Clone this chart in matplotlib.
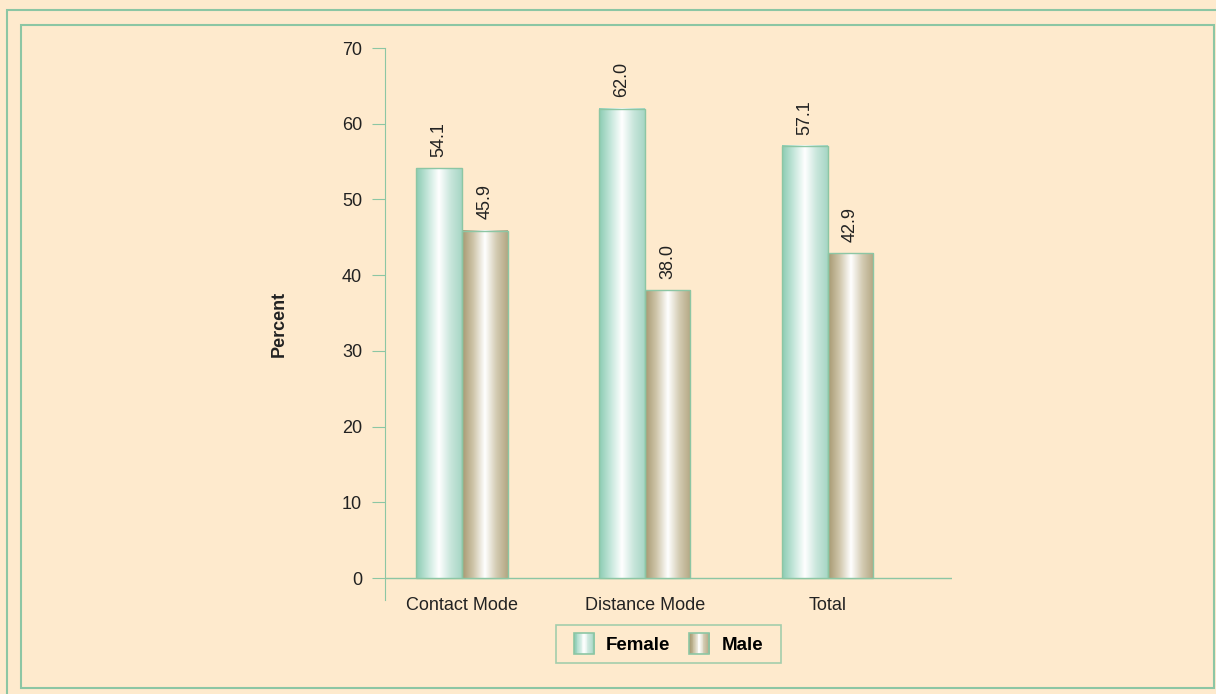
import numpy as np
import matplotlib
matplotlib.use("Agg")
import matplotlib.pyplot as plt
from matplotlib.patches import Rectangle
from matplotlib.legend_handler import HandlerBase
from matplotlib.colors import LinearSegmentedColormap

# data
categories = ["Contact Mode", "Distance Mode", "Total"]
female = [54.1, 62.0, 57.1]
male = [45.9, 38.0, 42.9]
series_names = ["Female", "Male"]

bg = "#FEEACD"
edge = "#8CC6A4"
female_cmap = LinearSegmentedColormap.from_list(
    "fem", ["#8ACBB2", "#C4E6DA", "#FFFFFF", "#C9E6DC", "#A6D6C4"])
male_cmap = LinearSegmentedColormap.from_list(
    "mal", ["#A69870", "#CFC6AA", "#FFFFFF", "#D3CBB2", "#B3A682"])

plt.rcParams['font.family'] = ['Liberation Sans', 'DejaVu Sans']

fig = plt.figure(figsize=(12.16, 6.94), dpi=100, facecolor=bg)
ax = fig.add_axes([0.3166, 0.1354, 0.4663, 0.7954])
ax.set_facecolor(bg)

# frames around the figure
fig.add_artist(Rectangle((7 / 1216, -0.1), 1.2, 1.1 - 10 / 694, transform=fig.transFigure,
                         fill=False, edgecolor=edge, lw=1.5))
fig.add_artist(Rectangle((21 / 1216, 1 - 688 / 694), (1214 - 21) / 1216, (688 - 25) / 694,
                         transform=fig.transFigure, fill=False, edgecolor=edge, lw=1.5))

x = np.arange(len(categories))
w = 0.25
grad = np.linspace(0, 1, 256).reshape(1, -1)


def gradient_bars(xs, vals, cmap):
    for xi, v in zip(xs, vals):
        ax.imshow(grad, cmap=cmap, extent=(xi, xi + w, 0, v), aspect="auto",
                  interpolation="bilinear", zorder=2)
    ax.bar(xs, vals, width=w, align="edge", facecolor="none", edgecolor=edge,
           linewidth=1.0, zorder=3)
    for xi, v in zip(xs, vals):
        ax.annotate(f"{v:.1f}", (xi + w / 2, v), xytext=(0, 8), textcoords="offset points",
                    rotation=90, ha="center", va="bottom", fontsize=13, color="#222222")


gradient_bars(x - w, female, female_cmap)
gradient_bars(x, male, male_cmap)

ax.set_xlim(-0.42, 2.68)
ax.set_ylim(-2.9, 70)
ax.set_yticks(range(0, 71, 10))
ax.set_xticks(x)
ax.set_xticklabels(categories)
ax.axhline(0, color=edge, lw=1.0, zorder=1)

for s in ["top", "right", "bottom"]:
    ax.spines[s].set_visible(False)
ax.spines["left"].set_color(edge)
ax.tick_params(axis="y", length=9.5, color=edge, labelsize=13, pad=7, labelcolor="#222222")
ax.tick_params(axis="x", length=0, labelsize=13, pad=-2, labelcolor="#222222")
ax.set_ylabel("Percent", fontsize=13, fontweight="bold", labelpad=39, color="#222222")


class GradientHandler(HandlerBase):
    def __init__(self, cmap):
        super().__init__()
        self.cmap = cmap

    def create_artists(self, legend, orig_handle, xdescent, ydescent, width, height,
                       fontsize, trans):
        n = 24
        arts = []
        for i in range(n):
            r = Rectangle((-xdescent + width * i / n, -ydescent), width / n + 0.3, height,
                          facecolor=self.cmap(i / (n - 1)), edgecolor="none", transform=trans)
            arts.append(r)
        arts.append(Rectangle((-xdescent, -ydescent), width, height, facecolor="none",
                              edgecolor=edge, lw=1.2, transform=trans))
        return arts


h1 = Rectangle((0, 0), 1, 1)
h2 = Rectangle((0, 0), 1, 1)
leg = ax.legend([h1, h2], series_names, loc="upper center", bbox_to_anchor=(0.5, -0.045),
                ncol=2, frameon=True, fancybox=False, edgecolor=edge, facecolor=bg,
                prop={"weight": "bold", "size": 13.5}, handlelength=1.07, handleheight=1.33,
                columnspacing=1.0, handletextpad=0.64, borderpad=0.46, borderaxespad=0,
                handler_map={h1: GradientHandler(female_cmap), h2: GradientHandler(male_cmap)})
frame = leg.get_frame()
frame.set_linewidth(1.2)
# wider padding left/right than top/bottom
frame.set_boxstyle("square", pad=0.5)
frame.set_mutation_aspect(0.001)

fig.savefig("out.png", dpi=100, facecolor=bg)
